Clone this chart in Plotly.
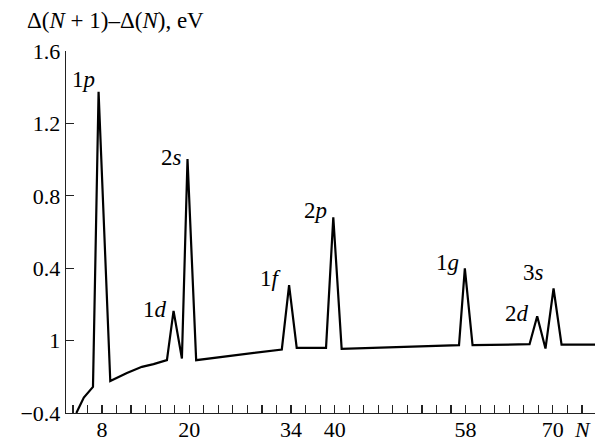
import plotly.graph_objects as go

# Data
N_vals = [4.47, 5.5, 6.76, 7.53, 9.14, 11.43, 13.49, 15.09, 16.93, 17.84, 18.99,
          19.76, 20.95, 32.73, 33.73, 34.78, 38.81, 39.81, 40.96, 57.1, 57.9,
          58.96, 66.8, 67.85, 68.99, 70.1, 71.2, 75.8]
dE_vals = [-0.40, -0.315, -0.256, 1.375, -0.223, -0.179, -0.145, -0.130, -0.108,
           0.164, -0.099, 1.003, -0.108, -0.049, 0.306, -0.040, -0.040, 0.681,
           -0.046, -0.025, 0.399, -0.025, -0.020, 0.135, -0.044, 0.288, -0.022,
           -0.022]

shell_labels = ["1<i>p</i>", "1<i>d</i>", "2<i>s</i>", "1<i>f</i>", "2<i>p</i>",
                "1<i>g</i>", "2<i>d</i>", "3<i>s</i>"]
shell_label_N = [5.43, 15.32, 17.52, 31.26, 37.3, 55.57, 65.05, 67.38]
shell_label_v = [1.44, 0.174, 1.014, 0.345, 0.721, 0.434, 0.152, 0.378]

x_tick_vals = list(range(4, 75, 2))
x_labeled = {8: "8", 20: "20", 34: "34", 40: "40", 58: "58", 70: "70"}
x_tick_text = [x_labeled.get(v, "") for v in x_tick_vals]

y_tick_vals = [-0.4, 0, 0.4, 0.8, 1.2, 1.6]
y_tick_text = ["\u22120.4", "1", "0.4", "0.8", "1.2", "1.6"]

FONT = "Liberation Serif, Times New Roman, serif"
FS = 23
TFS = 22

fig = go.Figure()
fig.add_trace(go.Scatter(x=N_vals, y=dE_vals, mode="lines",
                         line=dict(color="black", width=2.2),
                         hoverinfo="skip", showlegend=False, cliponaxis=True))

for t, xv, yv in zip(shell_labels, shell_label_N, shell_label_v):
    fig.add_annotation(x=xv, y=yv, xref="x", yref="y", text=t, showarrow=False,
                       font=dict(family=FONT, size=FS, color="black"),
                       xanchor="center", yanchor="middle")

fig.add_annotation(x=-0.0775, y=1.0856, xref="paper", yref="paper",
                   text="\u0394(<i>N</i> + 1)\u2013\u0394(<i>N</i>), eV",
                   showarrow=False, xanchor="left", yanchor="middle",
                   font=dict(family=FONT, size=FS, color="black"))
fig.add_annotation(x=0.977, y=-0.045, xref="paper", yref="paper",
                   text="<i>N</i>", showarrow=False, xanchor="center",
                   yanchor="middle",
                   font=dict(family=FONT, size=TFS, color="black"))

fig.update_layout(
    width=600, height=441,
    margin=dict(l=66, r=5, t=51, b=28, autoexpand=False),
    paper_bgcolor="white", plot_bgcolor="white",
    font=dict(family=FONT, size=FS, color="black"),
    showlegend=False,
)
fig.update_xaxes(range=[3.05, 75.8], tickvals=x_tick_vals, ticktext=x_tick_text,
                 ticks="inside", ticklen=8, tickwidth=1.2, tickcolor="#222",
                 showline=True, linecolor="#222", linewidth=1.3,
                 showgrid=False, zeroline=False, automargin=False,
                 ticklabelstandoff=-4,
                 tickfont=dict(family=FONT, size=TFS, color="black"))
fig.update_yaxes(range=[-0.4, 1.6], tickvals=y_tick_vals, ticktext=y_tick_text,
                 ticks="inside", ticklen=8, tickwidth=1.2, tickcolor="#222",
                 showline=True, linecolor="#222", linewidth=1.3,
                 showgrid=False, zeroline=False, automargin=False,
                 tickfont=dict(family=FONT, size=TFS, color="black"))

fig.write_html("out.html",
               config={"displayModeBar": False, "staticPlot": True},
               post_script="document.body.style.margin='0';"
                           "document.body.style.overflow='hidden';")
